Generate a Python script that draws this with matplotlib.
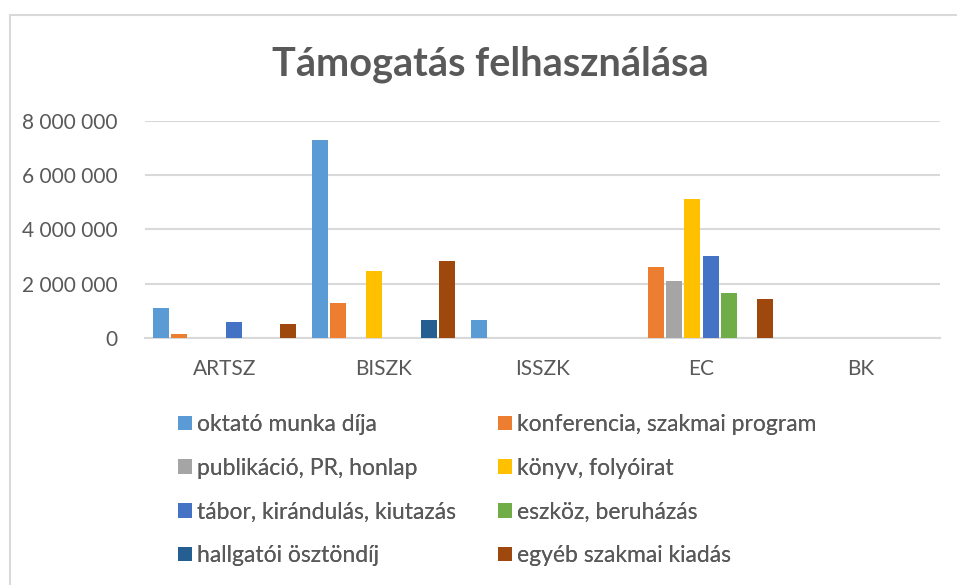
import numpy as np
import matplotlib.pyplot as plt
from matplotlib.patches import Rectangle

categories = ['ARTSZ', 'BISZK', 'ISSZK', 'EC', 'BK']
series_names = ['oktató munka díja', 'konferencia, szakmai program',
                'publikáció, PR, honlap', 'könyv, folyóirat',
                'tábor, kirándulás, kiutazás', 'eszköz, beruházás',
                'hallgatói ösztöndíj', 'egyéb szakmai kiadás']
colors = ['#5B9BD5', '#ED7D31', '#A5A5A5', '#FFC000',
          '#4472C4', '#70AD47', '#255E91', '#9E480E']

oktato = [1100000, 7300000, 650000, 0, 0]
konferencia = [140000, 1280000, 0, 2610000, 0]
publikacio = [0, 0, 0, 2090000, 0]
konyv = [0, 2460000, 0, 5120000, 0]
tabor = [580000, 0, 0, 3020000, 0]
eszkoz = [0, 0, 0, 1650000, 0]
hallgatoi = [0, 650000, 0, 0, 0]
egyeb = [500000, 2830000, 0, 1430000, 0]
values = [oktato, konferencia, publikacio, konyv, tabor, eszkoz, hallgatoi, egyeb]

yticks = [0, 2000000, 4000000, 6000000, 8000000]

plt.rcParams['font.family'] = ['Lato', 'DejaVu Sans']
gray = '#595959'
grid = '#D9D9D9'

fig = plt.figure(figsize=(9.57, 5.85), dpi=100)
ax = fig.add_axes([0.1515, 1 - 337.7 / 585, 0.8307, (337.7 - 121) / 585])

x = np.arange(len(categories))
step = 0.1145
width = 0.1
bars = []
for i, (name, vals, c) in enumerate(zip(series_names, values, colors)):
    bars.append(ax.bar(x + (i - 3.5) * step, vals, width, color=c, label=name, zorder=3))

ax.set_xlim(-0.5, len(categories) - 0.5)
ax.set_ylim(0, 8000000)
ax.set_yticks(yticks)
ax.set_yticklabels([f'{v:,}'.replace(',', ' ') for v in yticks])
ax.set_xticks(x)
ax.set_xticklabels(categories)
ax.tick_params(length=0, labelsize=15, colors=gray)
ax.tick_params(axis='y', pad=20)
ax.tick_params(axis='x', pad=15)
ax.yaxis.grid(True, color=grid, linewidth=1.5, zorder=0)
for s in ['top', 'right', 'left']:
    ax.spines[s].set_visible(False)
ax.spines['bottom'].set_color(grid)
ax.spines['bottom'].set_linewidth(1.5)

fig.text(490 / 957, 1 - 64 / 585, 'Támogatás felhasználása', ha='center', va='center',
         fontsize=28.5, fontweight='bold', color=gray)

# legend: two columns, filled row by row
for col, x0 in enumerate([178, 498]):
    idx = [col, col + 2, col + 4, col + 6]
    leg = fig.legend([bars[k] for k in idx], [series_names[k] for k in idx],
                     loc='upper left', bbox_to_anchor=(x0 / 957, 1 - 414 / 585),
                     frameon=False, fontsize=16.5, handlelength=0.6, handleheight=0.6,
                     handletextpad=0.22, labelspacing=0.99, borderpad=0, borderaxespad=0)
    for t in leg.get_texts():
        t.set_color(gray)
    fig.add_artist(leg)

fig.add_artist(Rectangle((10 / 957, -0.1), 1.2, 1.1 - 15 / 585, transform=fig.transFigure,
                         fill=False, edgecolor=grid, linewidth=1.5))

fig.savefig('out.png', dpi=100)
